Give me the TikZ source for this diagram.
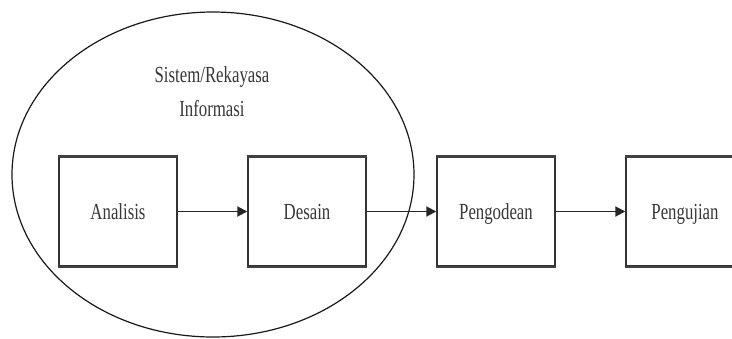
\documentclass[tikz,border=0pt]{standalone}
\usepackage{fontspec}
\usepackage{graphicx}
\setmainfont{Liberation Serif}
\usetikzlibrary{shapes.geometric,arrows.meta}
% condensed serif lettering
\newcommand\cond[1]{\scalebox{0.73}[1]{#1}}
\begin{document}
\begin{tikzpicture}[x=1pt,y=-1pt,
  stage/.style={draw=black!80,line width=1.4pt,minimum width=118pt,minimum height=109pt,
    inner sep=0pt,font=\fontsize{23}{34}\selectfont,text=black!78,
    text height=15.7pt,text depth=0pt},
  edgeline/.style={draw=black!75,line width=2.4pt},
  flow/.style={draw=black!85,line width=1.9pt,-{Triangle[length=10pt,width=10pt]}},
  group/.style={ellipse,draw=black!90,line width=1.2pt,minimum width=402pt,minimum height=325pt,inner sep=0pt},
  grouplabel/.style={align=center,font=\fontsize{23}{34}\selectfont,text=black!78,inner sep=0pt}]
\useasboundingbox (0,0) rectangle (732,338);
\clip (0,0) rectangle (732,338);
\fill[white] (0,0) rectangle (732,338);

% the four phases
\node[stage] (analisis)  at (118,211.5) {\cond{Analisis}};
\node[stage] (desain)    at (307,211.5) {\cond{Desain}};
\node[stage] (pengodean) at (496,211.5) {\cond{Pengodean}};
\node[stage] (pengujian) at (685,211.5) {\cond{Pengujian}};

% heavier horizontal edges of the boxes
\foreach \b in {analisis,desain,pengodean,pengujian}{
  \draw[edgeline] (\b.north west) -- (\b.north east);
  \draw[edgeline,line width=1.9pt] (\b.south west) -- (\b.south east);
}

% system / information engineering group
\node[group] (system) at (213,174.5) {};
\node[grouplabel] (systemlabel) at (212,92) {\cond{Sistem/Rekayasa}\\\cond{Informasi}};

% flow between phases
\draw[flow] (analisis) -- (desain);
\draw[flow] (desain) -- (pengodean);
\draw[flow] (pengodean) -- (pengujian);
\end{tikzpicture}
\end{document}
